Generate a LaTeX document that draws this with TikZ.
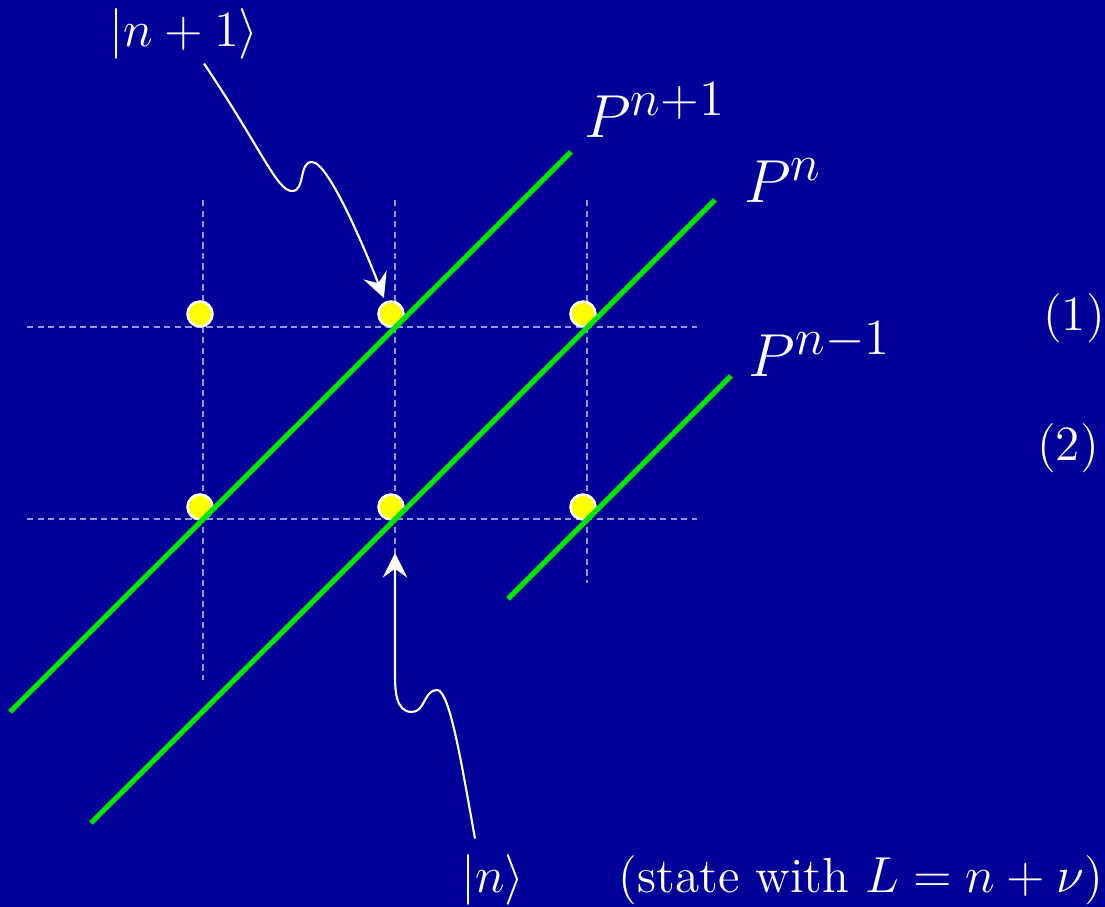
\documentclass[tikz,border=0pt]{standalone}
\usepackage{xcolor}
\usetikzlibrary{arrows.meta}
\definecolor{slideblue}{RGB}{0,0,153}
\definecolor{linegreen}{RGB}{0,230,0}
\definecolor{gridlilac}{RGB}{150,150,220}
\definecolor{dotyellow}{RGB}{255,255,0}

\begin{document}
\begin{tikzpicture}[x=0.01cm,y=0.01cm,
  gridline/.style={gridlilac, line width=0.6pt, dash pattern=on 1.8pt off 1.2pt},
  pline/.style={linegreen, line width=1.5pt},
  state/.style={circle, draw=white, fill=dotyellow, line width=0.7pt,
    minimum size=0.25cm, inner sep=0pt},
  ketlabel/.style={text=white, inner sep=1pt, font=\fontsize{14}{17}\selectfont},
  planelabel/.style={text=white, inner sep=1pt, font=\fontsize{19}{23}\selectfont},
  ketarrow/.style={white, line width=0.6pt,
    -{Stealth[length=7pt,width=7pt,inset=2.5pt]}, shorten >=0.31cm}
]
  \fill[slideblue] (0,0) rectangle (1105,907);
  \useasboundingbox (0,0) rectangle (1105,907);

  % lattice
  \coordinate (g12) at (395,580);
  \coordinate (g22) at (395,388);
  \draw[gridline] (27,580) -- (697,580);
  \draw[gridline] (27,388) -- (697,388);
  \draw[gridline] (203,707) -- (203,227);
  \draw[gridline] (395,707) -- (395,324);
  \draw[gridline] (587,707) -- (587,324);

  % states
  \node[state] (u1) at (200,593) {};
  \node[state] (u2) at (391,593) {};
  \node[state] (u3) at (583,593) {};
  \node[state] (l1) at (200,400) {};
  \node[state] (l2) at (391,400) {};
  \node[state] (l3) at (583,400) {};

  % planes
  \draw[pline] (10,195) -- (571,755);
  \draw[pline] (91,84) -- (715,707);
  \draw[pline] (508,308) -- (731,531);
  \node[planelabel] (pnp1) at (655,797) {$P^{n+1}$};
  \node[planelabel] (pn) at (783,726) {$P^{n}$};
  \node[planelabel] (pnm1) at (820,558) {$P^{n-1}$};

  % labels
  \node[ketlabel] (np1) at (184,873) {$|n+1\rangle$};
  \node[ketlabel] (nk) at (493,27) {$|n\rangle$};
  \node[ketlabel] (stateL) at (861,27) {(state with $L=n+\nu$)};
  \node[ketlabel] (eq1) at (1074,589) {(1)};
  \node[ketlabel] (eq2) at (1068,459) {(2)};

  % arrows
  \draw[ketarrow] ([shift={(20,0)}]np1.south)
    .. controls (262,757) and (277,716) .. (292,716)
    to[out=0,in=180] (312,745)
    .. controls (330,745) and (372,640) .. (g12);
  \draw[ketarrow, shorten >=0.34cm] ([shift={(-18,12)}]nk.north)
    .. controls (462,140) and (450,217) .. (437,217)
    to[out=180,in=0] (412,195)
    to[out=180,in=-90] (395,235) -- (g22);
\end{tikzpicture}
\end{document}
